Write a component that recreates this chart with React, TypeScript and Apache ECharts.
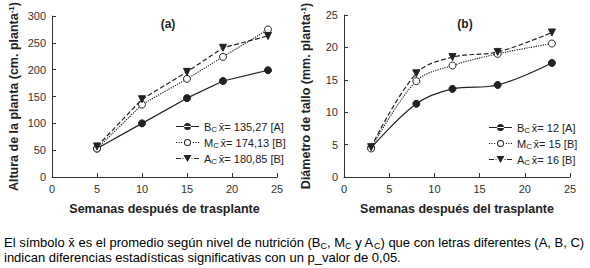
import React, { useEffect, useRef } from "react";
import * as echarts from "echarts";

const weeksA = [5, 10, 15, 19, 24];
const heightB = [53, 100, 147, 179, 199];
const heightM = [53, 135, 183, 224, 275];
const heightA = [57, 145, 196, 241, 263];

const weeksB = [3, 8, 12, 17, 23];
const diamB = [4.5, 11.3, 13.6, 14.2, 17.6];
const diamM = [4.4, 14.8, 17.2, 19.0, 20.6];
const diamA = [4.6, 16.0, 18.5, 19.3, 22.3];

const legendA = ["B|x̄= 135,27 [A]", "M|x̄= 174,13 [B]", "A|x̄= 180,85 [B]"];
const legendB = ["B|x̄= 12 [A]", "M|x̄= 15 [B]", "A|x̄= 16 [B]"];

const FONT = "Liberation Sans, Arial, sans-serif";
const INK = "#222";

// legend icons drawn in a 23 x 7 box: line + marker
const ICONS = [
  "path://M0,2.9L23,2.9L23,4.1L0,4.1Z M8,3.5A3.5,3.5 0 1,0 15,3.5A3.5,3.5 0 1,0 8,3.5Z M0,0L0.01,0Z M0,7L0.01,7Z",
  "path://M0,2.9h1.2v1.2h-1.2Z M2.5,2.9h1.2v1.2h-1.2Z M5,2.9h1.2v1.2h-1.2Z M16.8,2.9h1.2v1.2h-1.2Z M19.3,2.9h1.2v1.2h-1.2Z M21.8,2.9h1.2v1.2h-1.2Z M8,3.5A3.5,3.5 0 1,0 15,3.5A3.5,3.5 0 1,0 8,3.5Z M9,3.5A2.5,2.5 0 1,1 14,3.5A2.5,2.5 0 1,1 9,3.5Z",
  "path://M0,2.9L5,2.9L5,4.1L0,4.1Z M18,2.9L23,2.9L23,4.1L18,4.1Z M6.5,2.9L7.5,2.9L7.5,4.1L6.5,4.1Z M15.5,2.9L16.5,2.9L16.5,4.1L15.5,4.1Z M7.5,0L15.5,0L11.5,7Z",
];

const zip = (xs: number[], ys: number[]) => xs.map((x, i) => [x, ys[i]]);

export default function App() {
  const ref = useRef<HTMLDivElement>(null);
  useEffect(() => {
    const chart = echarts.init(ref.current!, null, { renderer: "svg" });
    const styles = [
      { symbol: "circle", type: "solid", fill: INK, rot: 0 },
      { symbol: "circle", type: "dotted", fill: "#fff", rot: 0 },
      { symbol: "triangle", type: "dashed", fill: INK, rot: 180 },
    ];
    const mkSeries = (names: string[], xs: number[], data: number[][], idx: number, smooth: boolean) =>
      names.map((n, i) => ({
        type: "line",
        name: n,
        xAxisIndex: idx,
        yAxisIndex: idx,
        data: zip(xs, data[i]),
        smooth: smooth ? 0.35 : false,
        symbol: styles[i].symbol,
        symbolRotate: styles[i].rot,
        symbolSize: 7,
        lineStyle: { color: INK, width: 1.2, type: styles[i].type as any },
        itemStyle: { color: styles[i].fill, borderColor: INK, borderWidth: 1 },
      }));
    const fmt = (name: string) => {
      const [s, rest] = name.split("|");
      return `{n|${s}}{s|C}{g| }{n|${rest}}`;
    };
    const legendText = {
      fontFamily: FONT,
      fontSize: 11,
      color: INK,
      rich: {
        n: { fontFamily: FONT, fontSize: 11, color: INK },
        s: { fontFamily: FONT, fontSize: 8, color: INK, verticalAlign: "bottom", padding: [5, 0, 0, 0] },
        g: { fontSize: 6 },
      },
    };
    const axisLine = { show: true, lineStyle: { color: "#333", width: 1 } };
    const axisTick = { show: true, inside: true, length: 4, lineStyle: { color: "#333" } };
    const axisLabel = { fontFamily: FONT, fontSize: 11, color: "#333", margin: 6 };
    const nameStyle = { fontFamily: FONT, fontSize: 12.5, fontWeight: "bold", color: INK };
    const xAxis = (idx: number, name: string) => ({
      type: "value",
      gridIndex: idx,
      min: 0,
      max: 25,
      interval: 5,
      name,
      nameLocation: "middle",
      nameGap: 25,
      nameTextStyle: nameStyle,
      axisLine,
      axisTick,
      axisLabel,
      splitLine: { show: false },
    });
    const yAxis = (idx: number, max: number, interval: number, name: any) => ({
      type: "value",
      gridIndex: idx,
      min: 0,
      max,
      interval,
      name,
      nameLocation: "middle",
      nameGap: 31,
      nameTextStyle: {
        ...nameStyle,
        rich: {
          b: { ...nameStyle },
          sup: { fontFamily: FONT, fontSize: 8, fontWeight: "bold", color: INK, verticalAlign: "top", padding: [0, 0, 6, 0] },
        },
      },
      axisLine,
      axisTick,
      axisLabel,
      splitLine: { show: false },
    });
    const capRich = {
      t: { fontFamily: FONT, fontSize: 13, color: INK },
      c: { fontFamily: FONT, fontSize: 9, color: INK, verticalAlign: "bottom", padding: [4, 0, 0, 0] },
    };
    const legendData = (names: string[]) =>
      names.map((n, i) => ({
        name: n,
        icon: ICONS[i],
        itemStyle: { color: INK, borderWidth: 0, borderColor: "transparent" },
      }));
    const legendBase = {
      orient: "vertical",
      itemWidth: 23,
      itemHeight: 7,
      itemGap: 4,
      symbolKeepAspect: false,
      formatter: fmt,
      textStyle: legendText,
      padding: 0,
    };
    chart.setOption({
      animation: false,
      title: [
        { text: "(a)", left: 163, top: 13, textAlign: "center", textStyle: { ...nameStyle, fontSize: 12 } },
        { text: "(b)", left: 460, top: 13, textAlign: "center", textStyle: { ...nameStyle, fontSize: 12 } },
      ],
      grid: [
        { left: 52, width: 225, top: 15, height: 162 },
        { left: 344, width: 226, top: 15, height: 162 },
      ],
      xAxis: [xAxis(0, "Semanas después de trasplante"), xAxis(1, "Semanas después del trasplante")],
      yAxis: [
        yAxis(0, 300, 50, "{b|Altura de la planta (cm. planta}{sup|-1}{b|)}"),
        yAxis(1, 25, 5, "{b|Diámetro de tallo (mm. planta}{sup|-1}{b|)}"),
      ],
      legend: [
        { ...legendBase, data: legendData(legendA), left: 176, top: 121 },
        { ...legendBase, data: legendData(legendB), left: 489, top: 122 },
      ],
      series: [
        ...mkSeries(legendA, weeksA, [heightB, heightM, heightA], 0, false),
        ...mkSeries(legendB, weeksB, [diamB, diamM, diamA], 1, true),
      ],
      graphic: [
        {
          type: "text",
          left: 4,
          top: 235,
          style: {
            text:
              "{t|El símbolo x̄ es el promedio según nivel de nutrición (B}{c|C}{t|, M}{c|C}{t| y A}{c|C}{t|) que con letras diferentes (A, B, C)}\n{t|indican diferencias estadísticas significativas con un p_valor de 0,05.}",
            rich: capRich,
            lineHeight: 15,
          },
        },
      ],
    });
    return () => chart.dispose();
  }, []);
  return <div ref={ref} style={{ position: "fixed", left: 0, top: 0, width: 590, height: 268, background: "#fff" }} />;
}
